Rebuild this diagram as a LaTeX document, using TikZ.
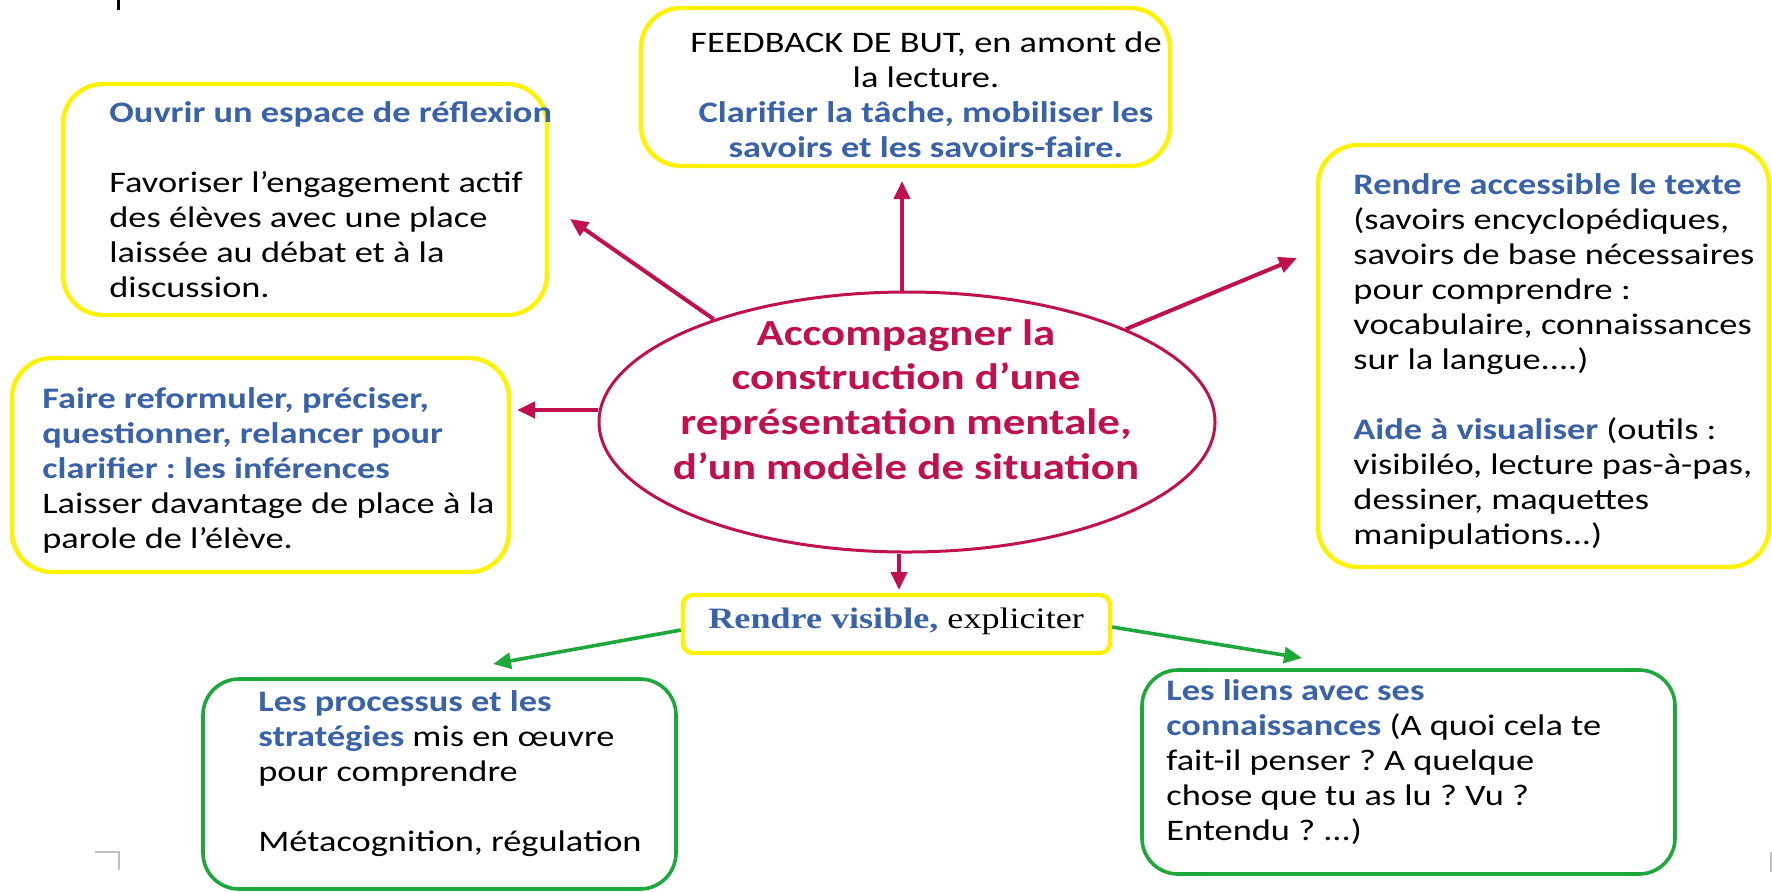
\documentclass[tikz,border=0pt]{standalone}
\usepackage{fontspec}
\setmainfont{Carlito}[FakeStretch=1.22]
\newfontfamily\serifT{Liberation Serif}[FakeStretch=1.22]
\usetikzlibrary{arrows.meta,shapes.geometric}
\definecolor{blueT}{RGB}{58,98,168}
\definecolor{crim}{RGB}{192,16,78}
\definecolor{yel}{RGB}{255,242,0}
\definecolor{grn}{RGB}{30,168,60}
\frenchspacing
\begin{document}
\begin{tikzpicture}[x=0.5pt,y=-0.5pt,
  ybox/.style={draw=yel, line width=2.2pt, rounded corners=20pt, inner sep=0pt},
  gbox/.style={draw=grn, line width=1.8pt, rounded corners=18pt, inner sep=0pt},
  body/.style={font=\fontsize{14.9}{17.5}\selectfont, align=left, inner sep=0pt, anchor=base west},
  carr/.style={draw=crim, line width=2pt, -{Triangle[length=9pt,width=8pt]}},
  garr/.style={draw=grn, line width=1.8pt, -{Triangle[length=9pt,width=8pt]}}
]
\useasboundingbox (0,0) rectangle (1772,891);

% stray page marks
\draw[line width=1.5pt, black] (118,0) -- (118,10);
\draw[gray!50, line width=0.8pt] (95,852) -- (119,852) -- (119,870);
\draw[gray!50, line width=0.8pt] (1771,852) -- (1771,872);

% boxes
\node[ybox, minimum width=242pt, minimum height=115.5pt] (ouv) at (305,199.5) {};
\node[ybox, minimum width=264.5pt, minimum height=79pt] (feed) at (905.5,87) {};
\node[ybox, minimum width=225.5pt, minimum height=211pt] (acc) at (1543.5,356) {};
\node[ybox, minimum width=248.5pt, minimum height=107pt] (faire) at (260.5,465) {};
\node[ybox, rounded corners=5pt, minimum width=213.5pt, minimum height=29pt] (rv) at (896.5,624) {};
\node[gbox, minimum width=236.5pt, minimum height=105pt] (proc) at (439.5,784) {};
\node[gbox, minimum width=266.5pt, minimum height=102pt] (liens) at (1408.5,772) {};
\node[draw=crim, line width=1.5pt, ellipse, minimum width=308pt, minimum height=130pt, inner sep=0pt] (ell) at (907,422) {};

% texts (anchor = baseline of the last line)
\node[body] (tOuv) at (109,297) {{\bfseries\color{blueT}Ouvrir un espace de réflexion}\\[17.5pt]
Favoriser l’engagement actif\\ des élèves avec une place\\ laissée au débat et à la\\ discussion.};

\node[body, align=center, anchor=base] (tFeed) at (926,157) {FEEDBACK DE BUT, en amont de\\ la lecture.\\
{\bfseries\color{blueT}Clarifier la tâche, mobiliser les}\\ {\bfseries\color{blueT}savoirs et les savoirs-faire.}};

\node[body] (tAcc) at (1353,544) {{\bfseries\color{blueT}Rendre accessible le texte}\\ (savoirs encyclopédiques,\\ savoirs de base nécessaires\\ pour comprendre :\\ vocabulaire, connaissances\\ sur la langue....)\\[17.5pt]
{\bfseries\color{blueT}Aide à visualiser} (outils :\\ visibiléo, lecture pas-à-pas,\\ dessiner, maquettes\\ manipulations...)};

\node[body] (tFaire) at (42,548) {{\bfseries\color{blueT}Faire reformuler, préciser,}\\ {\bfseries\color{blueT}questionner, relancer pour}\\ {\bfseries\color{blueT}clarifier : les inférences}\\ Laisser davantage de place à la\\ parole de l’élève.};

\node[align=center, anchor=base, inner sep=0pt, text=crim, font=\bfseries\fontsize{18.4}{22.3}\selectfont] (tEll) at (906,479) {Accompagner la\\ construction d’une\\ représentation mentale,\\ d’un modèle de situation};

\node[anchor=base west, inner sep=0pt, font=\serifT\fontsize{14.8}{17}\selectfont] (tRv) at (708,628) {{\bfseries\color{blueT}Rendre visible,} expliciter};

\node[body] (tProc) at (258,851) {{\bfseries\color{blueT}Les processus et les}\\ {\bfseries\color{blueT}stratégies} mis en œuvre\\ pour comprendre\\[17.5pt] Métacognition, régulation};

\node[body] (tLiens) at (1166,840) {{\bfseries\color{blueT}Les liens avec ses}\\ {\bfseries\color{blueT}connaissances} (A quoi cela te\\ fait-il penser ? A quelque\\ chose que tu as lu ? Vu ?\\ Entendu ? ...)};

% arrow tips
\coordinate (tipOuv) at (570,219);
\coordinate (tipUp) at (902,181);
\coordinate (tipAcc) at (1297,258);
\coordinate (tipL) at (517,410);
\coordinate (tipD) at (899,590);
\coordinate (tipG1) at (493,664);
\coordinate (tipG2) at (1302,658);

\draw[carr] (ell.152) -- (tipOuv);
\draw[carr] (ell.north -| tipUp) -- (tipUp);
\draw[carr] (ell.23) -- (tipAcc);
\draw[carr] (ell.west |- tipL) -- (tipL);
\draw[carr] (ell.south -| tipD) -- (tipD);
\draw[garr] ([yshift=-3pt]rv.west) -- (tipG1);
\draw[garr] ([yshift=-1.5pt]rv.east) -- (tipG2);
\end{tikzpicture}
\end{document}
